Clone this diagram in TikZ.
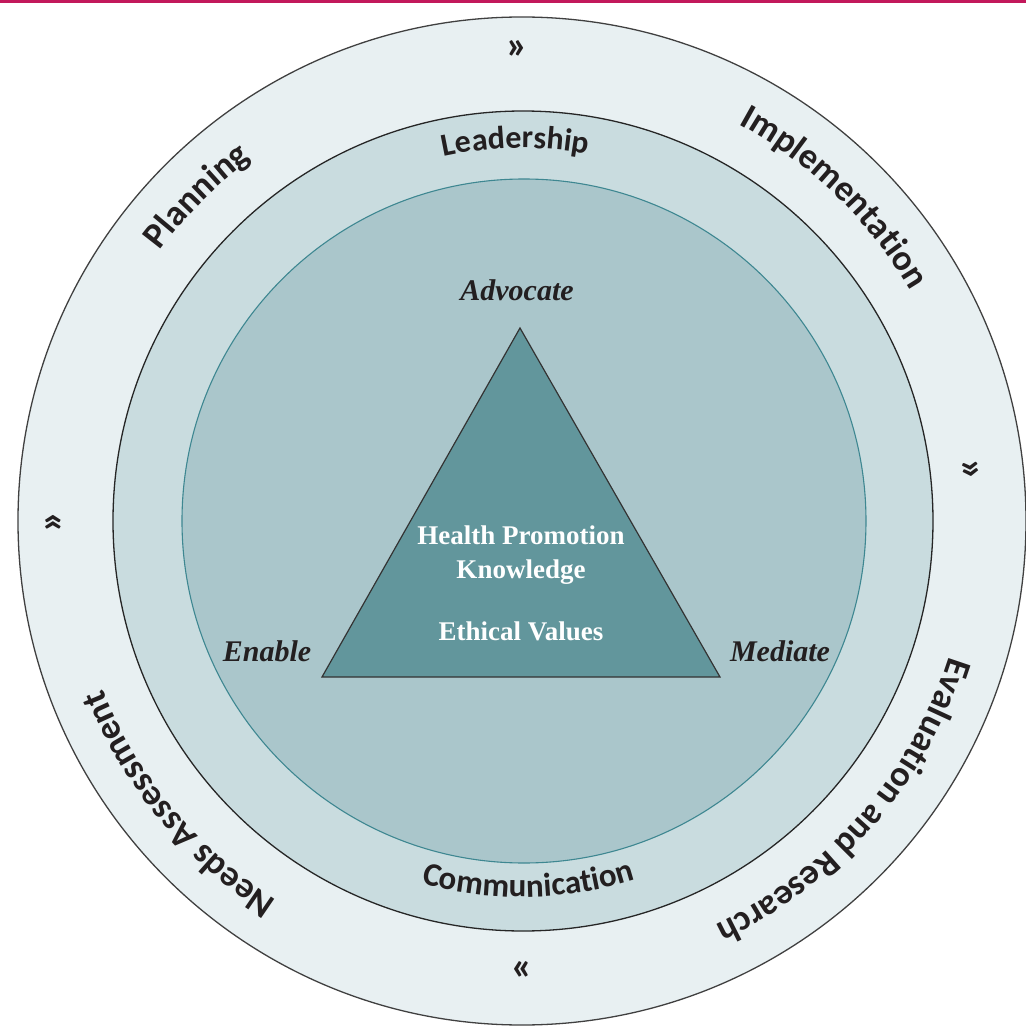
\documentclass[tikz,border=0pt]{standalone}
\usepackage{fontspec}
\setmainfont{Liberation Serif}
\newfontfamily\ringfont{Carlito}
\usetikzlibrary{decorations.text}

\definecolor{outerring}{HTML}{E8F0F2}
\definecolor{middlering}{HTML}{C9DCDF}
\definecolor{innerdisc}{HTML}{AAC6CB}
\definecolor{triangle}{HTML}{62969C}
\definecolor{tealline}{HTML}{3E8791}
\definecolor{ink}{HTML}{231F20}
\definecolor{toprule}{HTML}{C2185B}

\newcommand\outerfont{\ringfont\bfseries\fontsize{36bp}{40bp}\selectfont}
\newcommand\bandfont[1]{\ringfont\bfseries\fontsize{#1}{#1}\selectfont}

\tikzset{
  ringlabel/.style={decorate, decoration={text along path, text align=center, text color=ink}},
  rolelabel/.style={font=\fontsize{30bp}{34bp}\selectfont\bfseries\itshape, text=ink},
  corelabel/.style={font=\fontsize{27bp}{30bp}\selectfont\bfseries, text=white},
  flowmark/.style={font=\ringfont\bfseries\fontsize{40bp}{40bp}\selectfont, text=ink, inner sep=0pt},
}

\begin{document}
\begin{tikzpicture}[x=1bp,y=1bp]

\useasboundingbox (-522,-509) rectangle (504,521);
\draw[toprule,line width=3bp] (-522,519.5)--(504,519.5);

% rings
\draw[fill=outerring,draw=black!75,line width=1.3bp] (0,0) circle[radius=504];
\draw[fill=middlering,draw=black!85,line width=1.3bp] (1,0) circle[radius=410];
\draw[fill=innerdisc,draw=tealline,line width=1.1bp] (2,0) circle[radius=342];

% triangle
\coordinate (apex) at (-2,193);
\coordinate (baseL) at (-200,-156);
\coordinate (baseR) at (198,-156);
\draw[fill=triangle,draw=black!80,line width=1.2bp] (apex)--(baseL)--(baseR)--cycle;

\node[rolelabel] (advocate) at (-5,231) {Advocate};
\node[rolelabel] (enable) at (-255,-130) {Enable};
\node[rolelabel] (mediate) at (258,-130) {Mediate};

\node[corelabel] (hp) at (-1,-14) {Health Promotion};
\node[corelabel] (know) at (-1,-51) {Knowledge};
\node[corelabel] (ethics) at (-1,-110) {Ethical Values};

% outer ring, clockwise
\path[ringlabel,decoration={text={|\outerfont|Planning}}]
  (180:452) arc[start angle=180,end angle=90,radius=452];
\path[ringlabel,decoration={text={|\outerfont|Implementation}}]
  (91:452) arc[start angle=91,end angle=1,radius=452];
\path[ringlabel,decoration={text={|\outerfont|Evaluation and Research}}]
  (13:448) arc[start angle=13,end angle=-95,radius=448];
\path[ringlabel,decoration={text={|\outerfont|Needs Assessment}}]
  (265:452) arc[start angle=265,end angle=174,radius=452];

% middle band
\path[ringlabel,decoration={text={|\bandfont{32bp}|Leadership}}]
  (131:373) arc[start angle=131,end angle=51,radius=373];
\path[ringlabel,decoration={text={|\bandfont{33bp}|Communication}}]
  (229:376) arc[start angle=229,end angle=313,radius=376];

% flow marks
\node[flowmark] (flowtop) at (-5,471) {»};
\node[flowmark,rotate=-84] (flowright) at (448,51) {»};
\node[flowmark] (flowbottom) at (0,-449) {«};
\node[flowmark,rotate=90] (flowleft) at (-467,-1) {»};

\end{tikzpicture}
\end{document}
